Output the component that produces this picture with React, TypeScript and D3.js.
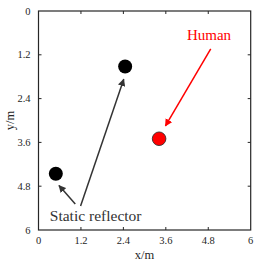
import React from 'react';
import * as d3 from 'd3';

const ticks = [0, 1.2, 2.4, 3.6, 4.8, 6];
const reflectors = [
  { x: 2.45, y: 1.52 },
  { x: 0.49, y: 4.46 },
];
const human = { x: 3.41, y: 3.5 };

// arrows in data units: [x1, y1, x2, y2]
const blackArrows = [
  [1.19, 5.34, 2.41, 1.87],
  [1.04, 5.29, 0.58, 4.78],
];
const redArrow = [4.87, 1.04, 3.59, 3.15];

export default function App() {
  const width = 268;
  const height = 264;
  const left = 38.5;
  const right = 250.7;
  const top = 11;
  const bottom = 230;

  const x = d3.scaleLinear().domain([0, 6]).range([left, right]);
  const y = d3.scaleLinear().domain([0, 6]).range([top, bottom]);

  const axisColor = '#262626';
  const font = "'Liberation Serif', 'Times New Roman', Times, serif";

  const arrow = (a: number[], color: string, id: string) => {
    const x1 = x(a[0]), y1 = y(a[1]), x2 = x(a[2]), y2 = y(a[3]);
    return <line key={id + a.join()} x1={x1} y1={y1} x2={x2} y2={y2}
      stroke={color} strokeWidth={1.5} markerEnd={`url(#${id})`} />;
  };

  return (
    <svg width={width} height={height} style={{ position: 'absolute', left: 0, top: 0, fontFamily: font }}>
      <defs>
        <marker id="headBlack" viewBox="0 0 10 10" refX="9" refY="5" markerWidth="5" markerHeight="5" orient="auto">
          <path d="M0,0 L10,5 L0,10 z" fill="#333" />
        </marker>
        <marker id="headRed" viewBox="0 0 10 10" refX="9" refY="5" markerWidth="5" markerHeight="5" orient="auto">
          <path d="M0,0 L10,5 L0,10 z" fill="#ff0000" />
        </marker>
      </defs>
      <rect x={0} y={0} width={width} height={height} fill="white" />
      <rect x={left} y={top} width={right - left} height={bottom - top} fill="white" stroke={axisColor} strokeWidth={1.2} />
      {ticks.slice(1, -1).map(t => (
        <g key={'t' + t} stroke={axisColor} strokeWidth={1}>
          <line x1={x(t)} x2={x(t)} y1={bottom} y2={bottom - 3} />
          <line x1={x(t)} x2={x(t)} y1={top} y2={top + 3} />
          <line x1={left} x2={left + 3} y1={y(t)} y2={y(t)} />
          <line x1={right} x2={right - 3} y1={y(t)} y2={y(t)} />
        </g>
      ))}
      {ticks.map(t => (
        <text key={'xl' + t} x={x(t)} y={bottom + 14} textAnchor="middle" fontSize={10.5} fill={axisColor}>{t}</text>
      ))}
      {ticks.map(t => (
        <text key={'yl' + t} x={left - 8} y={y(t) + 3.5} textAnchor="end" fontSize={10.5} fill={axisColor}>{t}</text>
      ))}
      <text x={(left + right) / 2} y={259} textAnchor="middle" fontSize={12.5} fill={axisColor}>x/m</text>
      <text transform={`translate(14,${(top + bottom) / 2}) rotate(-90)`} textAnchor="middle" fontSize={12.5} fill={axisColor}>y/m</text>

      {reflectors.map((p, i) => (
        <circle key={'r' + i} cx={x(p.x)} cy={y(p.y)} r={7} fill="black" />
      ))}
      <circle cx={x(human.x)} cy={y(human.y)} r={6.8} fill="#ff0000" stroke="#222" strokeWidth={0.8} />

      {blackArrows.map(a => arrow(a, '#333', 'headBlack'))}
      {arrow(redArrow, '#ff0000', 'headRed')}

      <text x={x(4.82)} y={y(0.8)} textAnchor="middle" fontSize={15} fill="#ff0000">Human</text>
      <text x={x(0.32)} y={y(5.75)} fontSize={15.5} fill="#333">Static reflector</text>
    </svg>
  );
}
